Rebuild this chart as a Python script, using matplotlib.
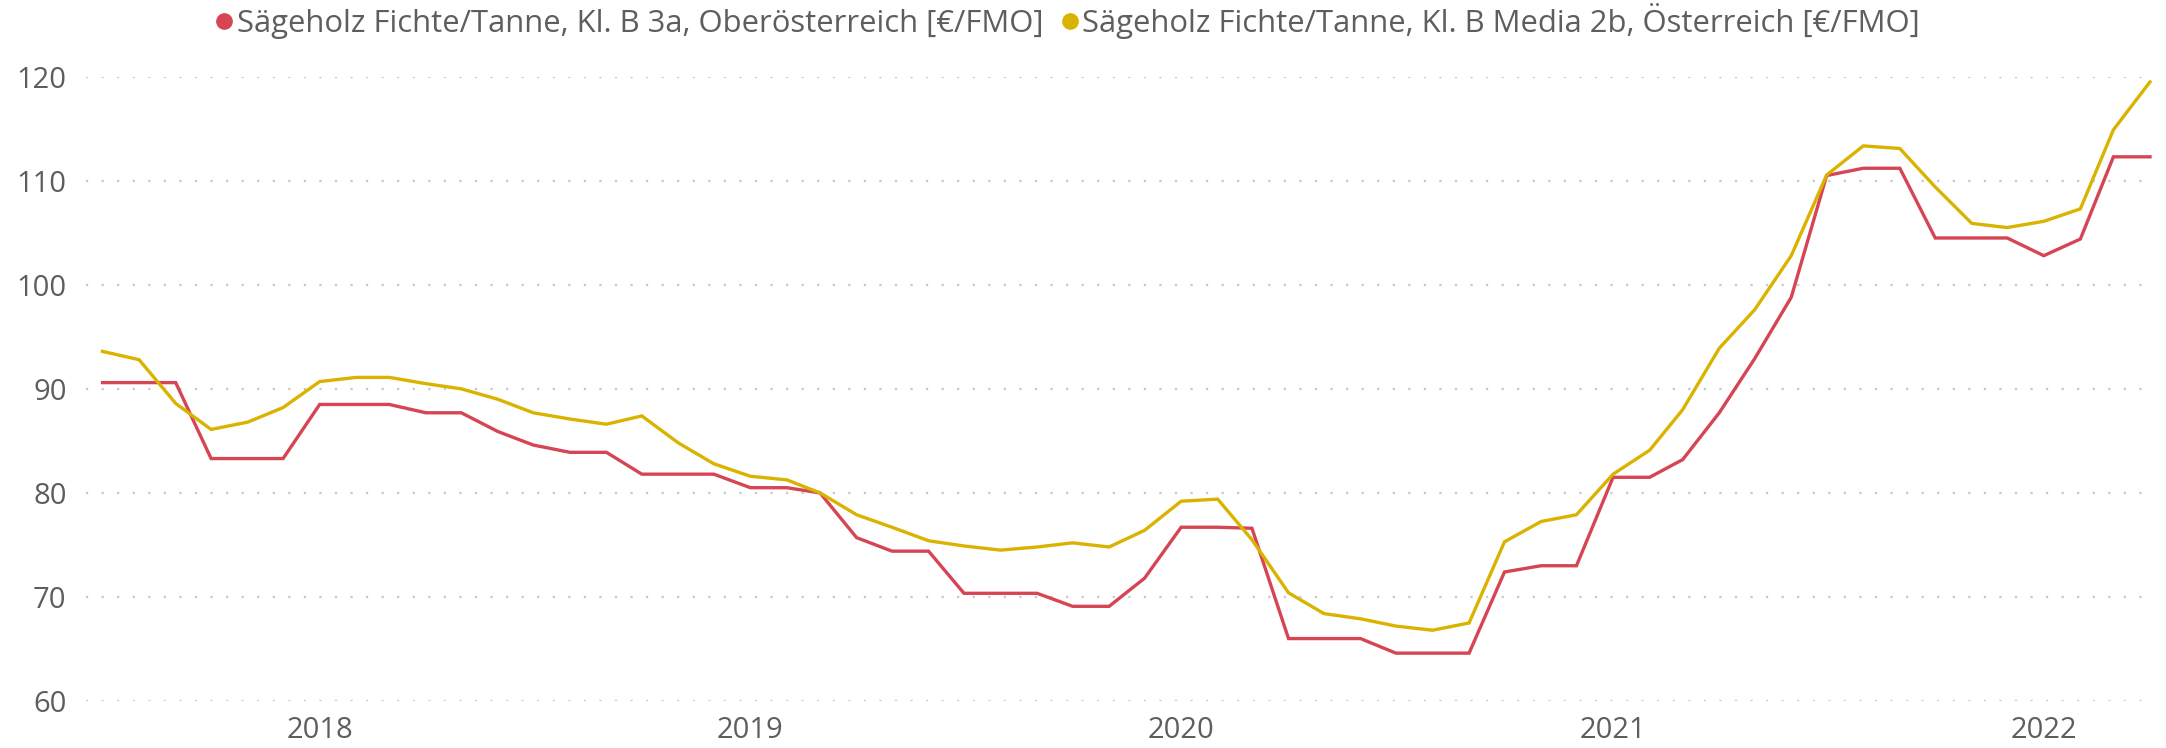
import matplotlib
matplotlib.use("Agg")
import matplotlib.pyplot as plt
import matplotlib.dates as mdates
from matplotlib.lines import Line2D
import pandas as pd

months = pd.date_range("2017-07-01", "2022-04-01", freq="MS")

oberoesterreich_3a = [
    90.6, 90.6, 90.6, 83.3, 83.3, 83.3,
    88.5, 88.5, 88.5, 87.7, 87.7, 85.9, 84.6, 83.9, 83.9, 81.8, 81.8, 81.8,
    80.5, 80.5, 80.0, 75.7, 74.4, 74.4, 70.35, 70.35, 70.35, 69.1, 69.1, 71.8,
    76.7, 76.7, 76.6, 66.0, 66.0, 66.0, 64.6, 64.6, 64.6, 72.4, 73.0, 73.0,
    81.5, 81.5, 83.2, 87.7, 92.9, 98.8, 110.5, 111.2, 111.2, 104.5, 104.5, 104.5,
    102.8, 104.4, 112.3, 112.3,
]

oesterreich_media_2b = [
    93.6, 92.8, 88.6, 86.1, 86.8, 88.2,
    90.7, 91.1, 91.1, 90.5, 90.0, 89.0, 87.7, 87.1, 86.6, 87.4, 84.8, 82.8,
    81.6, 81.25, 80.0, 77.9, 76.7, 75.4, 74.9, 74.5, 74.8, 75.2, 74.8, 76.4,
    79.2, 79.4, 75.5, 70.4, 68.4, 67.9, 67.2, 66.8, 67.5, 75.3, 77.25, 77.9,
    81.8, 84.1, 88.0, 93.9, 97.6, 102.8, 110.55, 113.35, 113.1, 109.4, 105.9, 105.5,
    106.1, 107.3, 114.9, 119.5,
]

series_labels = [
    "Sägeholz Fichte/Tanne, Kl. B 3a, Oberösterreich [€/FMO]",
    "Sägeholz Fichte/Tanne, Kl. B Media 2b, Österreich [€/FMO]",
]
y_ticks = [60, 70, 80, 90, 100, 110, 120]
year_ticks = ["2018-01-01", "2019-01-01", "2020-01-01", "2021-01-01", "2022-01-01"]

RED = "#D64554"
YELLOW = "#DAB300"
TXT = "#605E5C"

plt.rcParams["font.family"] = ["Open Sans", "DejaVu Sans"]

fig = plt.figure(figsize=(21.66, 7.48), dpi=100)
ax = fig.add_axes([86 / 2166, 1 - 701 / 748, (2150 - 86) / 2166, (701 - 76.7) / 748])

ax.plot(months, oberoesterreich_3a, color=RED, lw=2.4, clip_on=False, solid_joinstyle="miter")
ax.plot(months, oesterreich_media_2b, color=YELLOW, lw=2.4, clip_on=False, solid_joinstyle="miter")

ax.set_ylim(60, 120)
ax.set_xlim(months[0] - pd.Timedelta(days=14), months[-1])
ax.set_yticks(y_ticks)
ax.set_xticks([pd.Timestamp(d) for d in year_ticks])
ax.xaxis.set_major_formatter(mdates.DateFormatter("%Y"))

ax.grid(axis="y", color="#C8C8C8", linestyle=(0, (1, 6)), linewidth=1.6)
ax.grid(axis="x", visible=False)
for s in ax.spines.values():
    s.set_visible(False)
ax.tick_params(axis="both", length=0, labelsize=21, colors=TXT)
ax.tick_params(axis="y", pad=14)
ax.tick_params(axis="x", pad=11)
ax.set_axisbelow(True)

handles = [
    Line2D([], [], marker="o", linestyle="none", color=RED, markersize=11),
    Line2D([], [], marker="o", linestyle="none", color=YELLOW, markersize=11),
]
fig.legend(handles, series_labels, loc="center left", bbox_to_anchor=(212 / 2166, 1 - 21 / 748),
           ncol=2, frameon=False, fontsize=22.3, labelcolor=TXT, handletextpad=0.0,
           columnspacing=0.45, handlelength=0.8, borderpad=0, borderaxespad=0)

fig.savefig("out.png", dpi=100, facecolor="white")
